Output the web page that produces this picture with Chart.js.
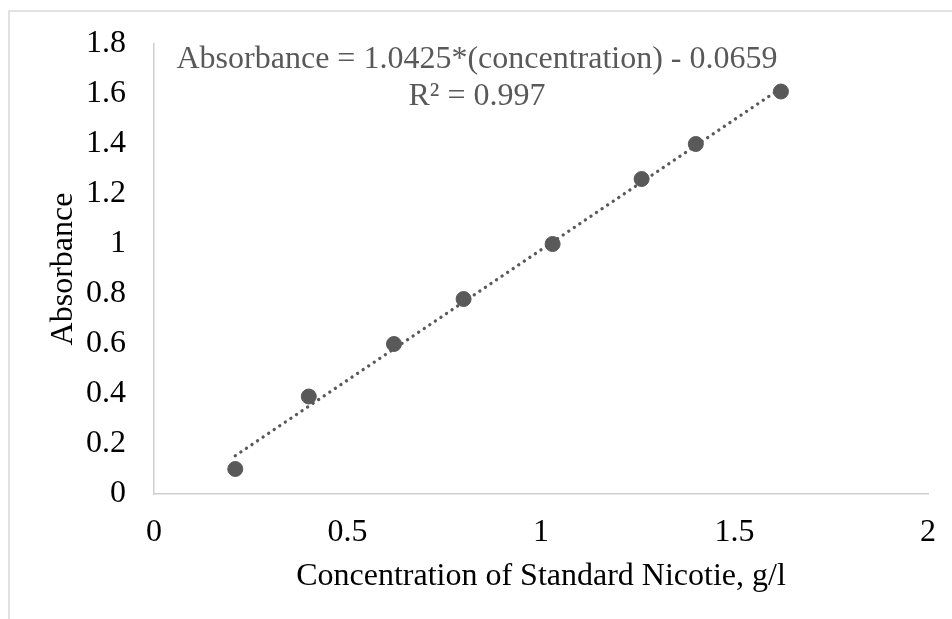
<!DOCTYPE html>
<html>
<head>
<meta charset="utf-8">
<script src="https://cdn.jsdelivr.net/npm/chart.js@4/dist/chart.umd.min.js"></script>
<style>
  html, body { margin: 0; padding: 0; background: #fff; overflow: hidden; }
  #wrap { position: relative; width: 952px; height: 619px; }
</style>
</head>
<body>
<div id="wrap"><canvas id="calib" width="952" height="619"></canvas></div>
<script>
// standard nicotine calibration
const concentration = [0.21, 0.40, 0.62, 0.80, 1.03, 1.26, 1.40, 1.62];
const absorbance    = [0.10, 0.39, 0.60, 0.78, 1.00, 1.26, 1.40, 1.61];
const slope     = 1.0425;
const intercept = -0.0659;
const rSquared  = 0.997;
const xTicks = [0, 0.5, 1, 1.5, 2];
const yTicks = [0, 0.2, 0.4, 0.6, 0.8, 1, 1.2, 1.4, 1.6, 1.8];

const SERIF = '"Liberation Serif", "Times New Roman", serif';
const GREY  = '#595959';

const points = concentration.map((x, i) => ({ x, y: absorbance[i] }));
const xMin = Math.min(...concentration);
const xMax = Math.max(...concentration);
const trend = [xMin, xMax].map(x => ({ x, y: slope * x + intercept }));

// light frame along top and left edges
const frame = {
  id: 'frame',
  beforeDraw(chart) {
    const c = chart.ctx;
    c.save();
    c.strokeStyle = '#d9d9d9';
    c.lineWidth = 1.5;
    c.beginPath();
    c.moveTo(9, chart.height);
    c.lineTo(9, 11);
    c.lineTo(chart.width, 11);
    c.stroke();
    c.restore();
  },
};

// trendline equation box
const eqLabel = {
  id: 'eqLabel',
  afterDraw(chart) {
    const { ctx: c, chartArea: a } = chart;
    const cx = a.left + 323;
    c.save();
    c.fillStyle = GREY;
    c.font = '32px ' + SERIF;
    c.textAlign = 'center';
    c.textBaseline = 'alphabetic';
    c.fillText(`Absorbance = ${slope}*(concentration) - ${Math.abs(intercept)}`, cx, a.top + 24);
    c.fillText(`R² = ${rSquared}`, cx, a.top + 61);
    c.restore();
  },
};

const plain = v => String(v);

new Chart(document.getElementById('calib'), {
  type: 'scatter',
  data: {
    datasets: [
      {
        data: points,
        backgroundColor: GREY,
        borderColor: GREY,
        pointRadius: 7.5,
        pointHoverRadius: 7.5,
        showLine: false,
      },
      {
        type: 'line',
        data: trend,
        borderColor: GREY,
        borderWidth: 3.3,
        borderCapStyle: 'round',
        borderDash: [0.1, 6.6],
        pointRadius: 0,
        fill: false,
      },
    ],
  },
  options: {
    responsive: false,
    animation: false,
    layout: { padding: { top: 44, right: 24, left: 0, bottom: 0 } },
    plugins: {
      legend: { display: false },
      tooltip: { enabled: false },
    },
    scales: {
      x: {
        type: 'linear',
        min: 0,
        max: 2,
        afterBuildTicks: s => { s.ticks = xTicks.map(v => ({ value: v })); },
        afterFit: s => { s.height = 125; },
        grid: { display: false },
        border: { display: true, color: '#d0d0d0', width: 1.5 },
        ticks: { color: '#000', padding: 11, callback: plain, font: { family: SERIF, size: 32 } },
        title: {
          display: true,
          text: 'Concentration of Standard Nicotie, g/l',
          color: '#000',
          font: { family: SERIF, size: 32 },
          padding: { top: 0, bottom: 23 },
        },
      },
      y: {
        type: 'linear',
        min: 0,
        max: 1.8,
        afterBuildTicks: s => { s.ticks = yTicks.map(v => ({ value: v })); },
        afterFit: s => { s.width = 154; },
        grid: { display: false },
        border: { display: true, color: '#d0d0d0', width: 1.5 },
        ticks: { color: '#000', padding: 20, callback: plain, font: { family: SERIF, size: 32 } },
        title: {
          display: true,
          text: 'Absorbance',
          color: '#000',
          font: { family: SERIF, size: 32 },
          padding: { top: 44, bottom: 0 },
        },
      },
    },
  },
  plugins: [frame, eqLabel],
});
</script>
</body>
</html>
